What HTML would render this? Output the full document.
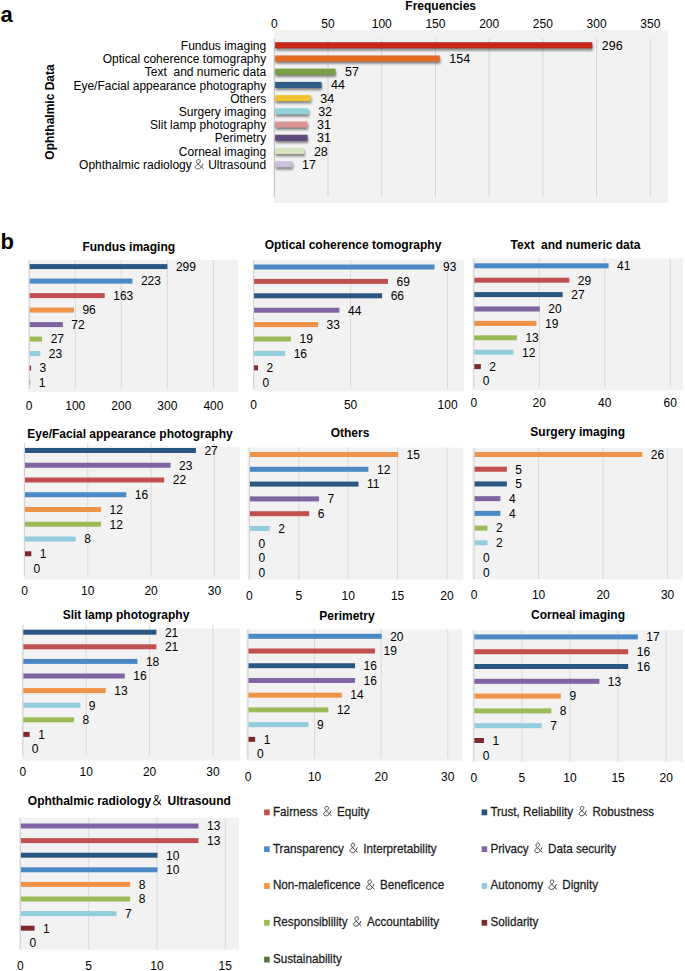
<!DOCTYPE html>
<html><head><meta charset="utf-8"><style>html,body{margin:0;padding:0;background:#fff;width:685px;height:971px;overflow:hidden}text{font-family:'Liberation Sans', sans-serif}</style></head>
<body><svg width="685" height="971" viewBox="0 0 685 971" style="display:block;font-family:'Liberation Sans', sans-serif">
<defs><filter id="sh" x="-5%" y="-50%" width="110%" height="200%"><feGaussianBlur stdDeviation="0.8"/></filter></defs>
<rect width="685" height="971" fill="#fff"/>
<rect x="274.00" y="30.00" width="394.00" height="173.00" fill="#f2f2f2" />
<line x1="328.01" y1="38.70" x2="328.01" y2="197.00" stroke="#d4d4d4" stroke-width="1"/>
<line x1="381.73" y1="38.70" x2="381.73" y2="197.00" stroke="#d4d4d4" stroke-width="1"/>
<line x1="435.45" y1="38.70" x2="435.45" y2="197.00" stroke="#d4d4d4" stroke-width="1"/>
<line x1="489.16" y1="38.70" x2="489.16" y2="197.00" stroke="#d4d4d4" stroke-width="1"/>
<line x1="542.88" y1="38.70" x2="542.88" y2="197.00" stroke="#d4d4d4" stroke-width="1"/>
<line x1="596.59" y1="38.70" x2="596.59" y2="197.00" stroke="#d4d4d4" stroke-width="1"/>
<line x1="650.31" y1="38.70" x2="650.31" y2="197.00" stroke="#d4d4d4" stroke-width="1"/>
<line x1="274.30" y1="38.70" x2="274.30" y2="197.00" stroke="#c8c8c8" stroke-width="1.2"/>
<text x="274.30" y="28.00" font-size="12" text-anchor="middle" font-weight="normal" fill="#000" >0</text>
<text x="328.01" y="28.00" font-size="12" text-anchor="middle" font-weight="normal" fill="#000" >50</text>
<text x="381.73" y="28.00" font-size="12" text-anchor="middle" font-weight="normal" fill="#000" >100</text>
<text x="435.45" y="28.00" font-size="12" text-anchor="middle" font-weight="normal" fill="#000" >150</text>
<text x="489.16" y="28.00" font-size="12" text-anchor="middle" font-weight="normal" fill="#000" >200</text>
<text x="542.88" y="28.00" font-size="12" text-anchor="middle" font-weight="normal" fill="#000" >250</text>
<text x="596.59" y="28.00" font-size="12" text-anchor="middle" font-weight="normal" fill="#000" >300</text>
<text x="650.31" y="28.00" font-size="12" text-anchor="middle" font-weight="normal" fill="#000" >350</text>
<text x="440.70" y="10.00" font-size="12" text-anchor="middle" font-weight="bold" fill="#000" >Frequencies</text>
<text x="0.50" y="22.20" font-size="22" text-anchor="start" font-weight="bold" fill="#000" >a</text>
<text transform="translate(53.6,112) rotate(-90)" font-size="12" font-weight="bold" text-anchor="middle">Ophthalmic Data</text>
<rect x="275.70" y="44.40" width="317.19" height="6.10" fill="rgba(40,40,40,0.55)" filter="url(#sh)"/>
<rect x="275.10" y="42.20" width="317.19" height="6.10" fill="#c8261a" />
<text x="266.20" y="49.85" font-size="12" text-anchor="end" font-weight="normal" fill="#000" >Fundus imaging</text>
<text x="601.79" y="49.75" font-size="12.5" text-anchor="start" font-weight="normal" fill="#000" >296</text>
<rect x="275.70" y="57.62" width="164.64" height="6.10" fill="rgba(40,40,40,0.55)" filter="url(#sh)"/>
<rect x="275.10" y="55.42" width="164.64" height="6.10" fill="#e46c22" />
<text x="266.20" y="63.07" font-size="12" text-anchor="end" font-weight="normal" fill="#000" >Optical coherence tomography</text>
<text x="449.24" y="62.97" font-size="12.5" text-anchor="start" font-weight="normal" fill="#000" >154</text>
<rect x="275.70" y="70.84" width="60.44" height="6.10" fill="rgba(40,40,40,0.55)" filter="url(#sh)"/>
<rect x="275.10" y="68.64" width="60.44" height="6.10" fill="#77a043" />
<text x="266.20" y="76.29" font-size="12" text-anchor="end" font-weight="normal" fill="#000" >Text&#160; and numeric data</text>
<text x="345.04" y="76.19" font-size="12.5" text-anchor="start" font-weight="normal" fill="#000" >57</text>
<rect x="275.70" y="84.06" width="46.47" height="6.10" fill="rgba(40,40,40,0.55)" filter="url(#sh)"/>
<rect x="275.10" y="81.86" width="46.47" height="6.10" fill="#2f5c88" />
<text x="266.20" y="89.51" font-size="12" text-anchor="end" font-weight="normal" fill="#000" >Eye/Facial appearance photography</text>
<text x="331.07" y="89.41" font-size="12.5" text-anchor="start" font-weight="normal" fill="#000" >44</text>
<rect x="275.70" y="97.28" width="35.73" height="6.10" fill="rgba(40,40,40,0.55)" filter="url(#sh)"/>
<rect x="275.10" y="95.08" width="35.73" height="6.10" fill="#f0c232" />
<text x="266.20" y="102.73" font-size="12" text-anchor="end" font-weight="normal" fill="#000" >Others</text>
<text x="320.33" y="102.63" font-size="12.5" text-anchor="start" font-weight="normal" fill="#000" >34</text>
<rect x="275.70" y="110.50" width="33.58" height="6.10" fill="rgba(40,40,40,0.55)" filter="url(#sh)"/>
<rect x="275.10" y="108.30" width="33.58" height="6.10" fill="#93d2dc" />
<text x="266.20" y="115.95" font-size="12" text-anchor="end" font-weight="normal" fill="#000" >Surgery imaging</text>
<text x="318.18" y="115.85" font-size="12.5" text-anchor="start" font-weight="normal" fill="#000" >32</text>
<rect x="275.70" y="123.72" width="32.50" height="6.10" fill="rgba(40,40,40,0.55)" filter="url(#sh)"/>
<rect x="275.10" y="121.52" width="32.50" height="6.10" fill="#d99594" />
<text x="266.20" y="129.17" font-size="12" text-anchor="end" font-weight="normal" fill="#000" >Slit lamp photography</text>
<text x="317.10" y="129.07" font-size="12.5" text-anchor="start" font-weight="normal" fill="#000" >31</text>
<rect x="275.70" y="136.94" width="32.50" height="6.10" fill="rgba(40,40,40,0.55)" filter="url(#sh)"/>
<rect x="275.10" y="134.74" width="32.50" height="6.10" fill="#604a7b" />
<text x="266.20" y="142.39" font-size="12" text-anchor="end" font-weight="normal" fill="#000" >Perimetry</text>
<text x="317.10" y="142.29" font-size="12.5" text-anchor="start" font-weight="normal" fill="#000" >31</text>
<rect x="275.70" y="150.16" width="29.28" height="6.10" fill="rgba(40,40,40,0.55)" filter="url(#sh)"/>
<rect x="275.10" y="147.96" width="29.28" height="6.10" fill="#d7e4bd" />
<text x="266.20" y="155.61" font-size="12" text-anchor="end" font-weight="normal" fill="#000" >Corneal imaging</text>
<text x="313.88" y="155.51" font-size="12.5" text-anchor="start" font-weight="normal" fill="#000" >28</text>
<rect x="275.70" y="163.38" width="17.46" height="6.10" fill="rgba(40,40,40,0.55)" filter="url(#sh)"/>
<rect x="275.10" y="161.18" width="17.46" height="6.10" fill="#ccc1da" />
<text x="191.80" y="168.83" font-size="12" text-anchor="end" font-weight="normal" fill="#000" >Ophthalmic radiology</text>
<path d="M 7.9 9.5 L 2.7 4.4 C 1.2 3.0 1.1 0.2 3.5 0.2 C 5.7 0.2 5.8 2.8 3.2 4.6 C 1.0 6.1 0.3 6.9 0.3 7.9 C 0.3 9.1 1.4 9.8 2.9 9.8 C 4.9 9.8 6.5 8.0 7.5 4.8" transform="translate(194.70,159.43) scale(1.1,0.97)" fill="none" stroke="#444" stroke-width="0.85" stroke-linecap="round" stroke-linejoin="round"/>
<text x="266.20" y="168.83" font-size="12" text-anchor="end" font-weight="normal" fill="#000" >Ultrasound</text>
<text x="302.06" y="168.73" font-size="12.5" text-anchor="start" font-weight="normal" fill="#000" >17</text>
<text x="0.50" y="249.00" font-size="22" text-anchor="start" font-weight="bold" fill="#000" >b</text>
<rect x="28.20" y="260.00" width="209.80" height="132.20" fill="#f2f2f2" />
<line x1="75.25" y1="260.00" x2="75.25" y2="389.30" stroke="#d9d9d9" stroke-width="1"/>
<line x1="121.30" y1="260.00" x2="121.30" y2="389.30" stroke="#d9d9d9" stroke-width="1"/>
<line x1="167.35" y1="260.00" x2="167.35" y2="389.30" stroke="#d9d9d9" stroke-width="1"/>
<line x1="213.40" y1="260.00" x2="213.40" y2="389.30" stroke="#d9d9d9" stroke-width="1"/>
<line x1="29.20" y1="260.00" x2="29.20" y2="389.30" stroke="#d2d2d2" stroke-width="1.1"/>
<text x="29.20" y="409.50" font-size="12" text-anchor="middle" font-weight="normal" fill="#000" >0</text>
<text x="75.25" y="409.50" font-size="12" text-anchor="middle" font-weight="normal" fill="#000" >100</text>
<text x="121.30" y="409.50" font-size="12" text-anchor="middle" font-weight="normal" fill="#000" >200</text>
<text x="167.35" y="409.50" font-size="12" text-anchor="middle" font-weight="normal" fill="#000" >300</text>
<text x="213.40" y="409.50" font-size="12" text-anchor="middle" font-weight="normal" fill="#000" >400</text>
<text x="128.75" y="251.00" font-size="12" text-anchor="middle" font-weight="bold" fill="#000" >Fundus imaging</text>
<rect x="29.70" y="264.10" width="137.69" height="5.00" fill="#2a5782" />
<text x="175.89" y="270.90" font-size="12" text-anchor="start" font-weight="normal" fill="#000" >299</text>
<rect x="29.70" y="278.60" width="102.69" height="5.00" fill="#4a88c6" />
<text x="140.89" y="285.40" font-size="12" text-anchor="start" font-weight="normal" fill="#000" >223</text>
<rect x="29.70" y="293.10" width="75.06" height="5.00" fill="#c0504d" />
<text x="113.26" y="299.90" font-size="12" text-anchor="start" font-weight="normal" fill="#000" >163</text>
<rect x="29.70" y="307.60" width="44.21" height="5.00" fill="#ef9349" />
<text x="82.41" y="314.40" font-size="12" text-anchor="start" font-weight="normal" fill="#000" >96</text>
<rect x="29.70" y="322.10" width="33.16" height="5.00" fill="#8064a2" />
<text x="71.36" y="328.90" font-size="12" text-anchor="start" font-weight="normal" fill="#000" >72</text>
<rect x="29.70" y="336.60" width="12.43" height="5.00" fill="#9bbb59" />
<text x="50.63" y="343.40" font-size="12" text-anchor="start" font-weight="normal" fill="#000" >27</text>
<rect x="29.70" y="351.10" width="10.59" height="5.00" fill="#93cddd" />
<text x="48.79" y="357.90" font-size="12" text-anchor="start" font-weight="normal" fill="#000" >23</text>
<rect x="29.70" y="365.60" width="1.38" height="5.00" fill="#7f2a2a" />
<text x="39.58" y="372.40" font-size="12" text-anchor="start" font-weight="normal" fill="#000" >3</text>
<rect x="29.70" y="380.10" width="0.46" height="5.00" fill="#6a6a6a" />
<text x="38.66" y="386.90" font-size="12" text-anchor="start" font-weight="normal" fill="#000" >1</text>
<rect x="252.80" y="260.00" width="211.20" height="131.30" fill="#f2f2f2" />
<line x1="350.60" y1="260.00" x2="350.60" y2="388.40" stroke="#d9d9d9" stroke-width="1"/>
<line x1="447.60" y1="260.00" x2="447.60" y2="388.40" stroke="#d9d9d9" stroke-width="1"/>
<line x1="253.60" y1="260.00" x2="253.60" y2="388.40" stroke="#d2d2d2" stroke-width="1.1"/>
<text x="253.60" y="408.50" font-size="12" text-anchor="middle" font-weight="normal" fill="#000" >0</text>
<text x="350.60" y="408.50" font-size="12" text-anchor="middle" font-weight="normal" fill="#000" >50</text>
<text x="447.60" y="408.50" font-size="12" text-anchor="middle" font-weight="normal" fill="#000" >100</text>
<text x="353.00" y="249.00" font-size="12" text-anchor="middle" font-weight="bold" fill="#000" >Optical coherence tomography</text>
<rect x="254.10" y="264.50" width="180.42" height="5.00" fill="#4a88c6" />
<text x="443.02" y="271.30" font-size="12" text-anchor="start" font-weight="normal" fill="#000" >93</text>
<rect x="254.10" y="278.90" width="133.86" height="5.00" fill="#c0504d" />
<text x="396.46" y="285.70" font-size="12" text-anchor="start" font-weight="normal" fill="#000" >69</text>
<rect x="254.10" y="293.30" width="128.04" height="5.00" fill="#2a5782" />
<text x="390.64" y="300.10" font-size="12" text-anchor="start" font-weight="normal" fill="#000" >66</text>
<rect x="254.10" y="307.70" width="85.36" height="5.00" fill="#8064a2" />
<text x="347.96" y="314.50" font-size="12" text-anchor="start" font-weight="normal" fill="#000" >44</text>
<rect x="254.10" y="322.10" width="64.02" height="5.00" fill="#ef9349" />
<text x="326.62" y="328.90" font-size="12" text-anchor="start" font-weight="normal" fill="#000" >33</text>
<rect x="254.10" y="336.50" width="36.86" height="5.00" fill="#9bbb59" />
<text x="299.46" y="343.30" font-size="12" text-anchor="start" font-weight="normal" fill="#000" >19</text>
<rect x="254.10" y="350.90" width="31.04" height="5.00" fill="#93cddd" />
<text x="293.64" y="357.70" font-size="12" text-anchor="start" font-weight="normal" fill="#000" >16</text>
<rect x="254.10" y="365.30" width="3.88" height="5.00" fill="#7f2a2a" />
<text x="266.48" y="372.10" font-size="12" text-anchor="start" font-weight="normal" fill="#000" >2</text>
<text x="262.60" y="386.50" font-size="12" text-anchor="start" font-weight="normal" fill="#000" >0</text>
<rect x="472.50" y="258.50" width="210.50" height="131.90" fill="#f2f2f2" />
<line x1="539.30" y1="258.50" x2="539.30" y2="387.80" stroke="#d9d9d9" stroke-width="1"/>
<line x1="604.80" y1="258.50" x2="604.80" y2="387.80" stroke="#d9d9d9" stroke-width="1"/>
<line x1="670.30" y1="258.50" x2="670.30" y2="387.80" stroke="#d9d9d9" stroke-width="1"/>
<line x1="473.80" y1="258.50" x2="473.80" y2="387.80" stroke="#d2d2d2" stroke-width="1.1"/>
<text x="473.80" y="407.00" font-size="12" text-anchor="middle" font-weight="normal" fill="#000" >0</text>
<text x="539.30" y="407.00" font-size="12" text-anchor="middle" font-weight="normal" fill="#000" >20</text>
<text x="604.80" y="407.00" font-size="12" text-anchor="middle" font-weight="normal" fill="#000" >40</text>
<text x="670.30" y="407.00" font-size="12" text-anchor="middle" font-weight="normal" fill="#000" >60</text>
<text x="575.50" y="249.00" font-size="12" text-anchor="middle" font-weight="bold" fill="#000" >Text&#160; and numeric data</text>
<rect x="474.30" y="263.30" width="134.28" height="5.00" fill="#4a88c6" />
<text x="617.08" y="270.10" font-size="12" text-anchor="start" font-weight="normal" fill="#000" >41</text>
<rect x="474.30" y="277.70" width="94.97" height="5.00" fill="#c0504d" />
<text x="577.77" y="284.50" font-size="12" text-anchor="start" font-weight="normal" fill="#000" >29</text>
<rect x="474.30" y="292.10" width="88.42" height="5.00" fill="#2a5782" />
<text x="571.23" y="298.90" font-size="12" text-anchor="start" font-weight="normal" fill="#000" >27</text>
<rect x="474.30" y="306.50" width="65.50" height="5.00" fill="#8064a2" />
<text x="548.30" y="313.30" font-size="12" text-anchor="start" font-weight="normal" fill="#000" >20</text>
<rect x="474.30" y="320.90" width="62.23" height="5.00" fill="#ef9349" />
<text x="545.02" y="327.70" font-size="12" text-anchor="start" font-weight="normal" fill="#000" >19</text>
<rect x="474.30" y="335.30" width="42.57" height="5.00" fill="#9bbb59" />
<text x="525.38" y="342.10" font-size="12" text-anchor="start" font-weight="normal" fill="#000" >13</text>
<rect x="474.30" y="349.70" width="39.30" height="5.00" fill="#93cddd" />
<text x="522.10" y="356.50" font-size="12" text-anchor="start" font-weight="normal" fill="#000" >12</text>
<rect x="474.30" y="364.10" width="6.55" height="5.00" fill="#7f2a2a" />
<text x="489.35" y="370.90" font-size="12" text-anchor="start" font-weight="normal" fill="#000" >2</text>
<text x="482.80" y="385.30" font-size="12" text-anchor="start" font-weight="normal" fill="#000" >0</text>
<rect x="23.50" y="446.50" width="216.50" height="132.90" fill="#f2f2f2" />
<line x1="87.80" y1="443.20" x2="87.80" y2="575.80" stroke="#d9d9d9" stroke-width="1"/>
<line x1="151.10" y1="443.20" x2="151.10" y2="575.80" stroke="#d9d9d9" stroke-width="1"/>
<line x1="214.40" y1="443.20" x2="214.40" y2="575.80" stroke="#d9d9d9" stroke-width="1"/>
<line x1="24.50" y1="443.20" x2="24.50" y2="575.80" stroke="#d2d2d2" stroke-width="1.1"/>
<text x="24.50" y="594.50" font-size="12" text-anchor="middle" font-weight="normal" fill="#000" >0</text>
<text x="87.80" y="594.50" font-size="12" text-anchor="middle" font-weight="normal" fill="#000" >10</text>
<text x="151.10" y="594.50" font-size="12" text-anchor="middle" font-weight="normal" fill="#000" >20</text>
<text x="214.40" y="594.50" font-size="12" text-anchor="middle" font-weight="normal" fill="#000" >30</text>
<text x="130.00" y="437.50" font-size="12" text-anchor="middle" font-weight="bold" fill="#000" >Eye/Facial appearance photography</text>
<rect x="25.00" y="448.00" width="170.91" height="5.00" fill="#2a5782" />
<text x="204.41" y="454.80" font-size="12" text-anchor="start" font-weight="normal" fill="#000" >27</text>
<rect x="25.00" y="462.75" width="145.59" height="5.00" fill="#8064a2" />
<text x="179.09" y="469.55" font-size="12" text-anchor="start" font-weight="normal" fill="#000" >23</text>
<rect x="25.00" y="477.50" width="139.26" height="5.00" fill="#c0504d" />
<text x="172.76" y="484.30" font-size="12" text-anchor="start" font-weight="normal" fill="#000" >22</text>
<rect x="25.00" y="492.25" width="101.28" height="5.00" fill="#4a88c6" />
<text x="134.78" y="499.05" font-size="12" text-anchor="start" font-weight="normal" fill="#000" >16</text>
<rect x="25.00" y="507.00" width="75.96" height="5.00" fill="#ef9349" />
<text x="109.46" y="513.80" font-size="12" text-anchor="start" font-weight="normal" fill="#000" >12</text>
<rect x="25.00" y="521.75" width="75.96" height="5.00" fill="#9bbb59" />
<text x="109.46" y="528.55" font-size="12" text-anchor="start" font-weight="normal" fill="#000" >12</text>
<rect x="25.00" y="536.50" width="50.64" height="5.00" fill="#93cddd" />
<text x="84.14" y="543.30" font-size="12" text-anchor="start" font-weight="normal" fill="#000" >8</text>
<rect x="25.00" y="551.25" width="6.33" height="5.00" fill="#7f2a2a" />
<text x="39.83" y="558.05" font-size="12" text-anchor="start" font-weight="normal" fill="#000" >1</text>
<text x="33.50" y="572.80" font-size="12" text-anchor="start" font-weight="normal" fill="#000" >0</text>
<rect x="247.40" y="447.60" width="215.90" height="131.90" fill="#f2f2f2" />
<line x1="298.80" y1="447.60" x2="298.80" y2="579.50" stroke="#d9d9d9" stroke-width="1"/>
<line x1="348.20" y1="447.60" x2="348.20" y2="579.50" stroke="#d9d9d9" stroke-width="1"/>
<line x1="397.60" y1="447.60" x2="397.60" y2="579.50" stroke="#d9d9d9" stroke-width="1"/>
<line x1="447.00" y1="447.60" x2="447.00" y2="579.50" stroke="#d9d9d9" stroke-width="1"/>
<line x1="249.40" y1="447.60" x2="249.40" y2="579.50" stroke="#d2d2d2" stroke-width="1.1"/>
<text x="249.40" y="599.50" font-size="12" text-anchor="middle" font-weight="normal" fill="#000" >0</text>
<text x="298.80" y="599.50" font-size="12" text-anchor="middle" font-weight="normal" fill="#000" >5</text>
<text x="348.20" y="599.50" font-size="12" text-anchor="middle" font-weight="normal" fill="#000" >10</text>
<text x="397.60" y="599.50" font-size="12" text-anchor="middle" font-weight="normal" fill="#000" >15</text>
<text x="447.00" y="599.50" font-size="12" text-anchor="middle" font-weight="normal" fill="#000" >20</text>
<text x="350.00" y="437.00" font-size="12" text-anchor="middle" font-weight="bold" fill="#000" >Others</text>
<rect x="249.90" y="452.00" width="148.20" height="5.00" fill="#ef9349" />
<text x="406.60" y="458.80" font-size="12" text-anchor="start" font-weight="normal" fill="#000" >15</text>
<rect x="249.90" y="466.80" width="118.56" height="5.00" fill="#4a88c6" />
<text x="376.96" y="473.60" font-size="12" text-anchor="start" font-weight="normal" fill="#000" >12</text>
<rect x="249.90" y="481.60" width="108.68" height="5.00" fill="#2a5782" />
<text x="367.08" y="488.40" font-size="12" text-anchor="start" font-weight="normal" fill="#000" >11</text>
<rect x="249.90" y="496.40" width="69.16" height="5.00" fill="#8064a2" />
<text x="327.56" y="503.20" font-size="12" text-anchor="start" font-weight="normal" fill="#000" >7</text>
<rect x="249.90" y="511.20" width="59.28" height="5.00" fill="#c0504d" />
<text x="317.68" y="518.00" font-size="12" text-anchor="start" font-weight="normal" fill="#000" >6</text>
<rect x="249.90" y="526.00" width="19.76" height="5.00" fill="#93cddd" />
<text x="278.16" y="532.80" font-size="12" text-anchor="start" font-weight="normal" fill="#000" >2</text>
<text x="258.40" y="547.60" font-size="12" text-anchor="start" font-weight="normal" fill="#000" >0</text>
<text x="258.40" y="562.40" font-size="12" text-anchor="start" font-weight="normal" fill="#000" >0</text>
<text x="258.40" y="577.20" font-size="12" text-anchor="start" font-weight="normal" fill="#000" >0</text>
<rect x="471.80" y="447.90" width="211.20" height="131.40" fill="#f2f2f2" />
<line x1="538.60" y1="447.90" x2="538.60" y2="579.30" stroke="#d9d9d9" stroke-width="1"/>
<line x1="603.10" y1="447.90" x2="603.10" y2="579.30" stroke="#d9d9d9" stroke-width="1"/>
<line x1="667.60" y1="447.90" x2="667.60" y2="579.30" stroke="#d9d9d9" stroke-width="1"/>
<line x1="474.10" y1="447.90" x2="474.10" y2="579.30" stroke="#d2d2d2" stroke-width="1.1"/>
<text x="474.10" y="598.50" font-size="12" text-anchor="middle" font-weight="normal" fill="#000" >0</text>
<text x="538.60" y="598.50" font-size="12" text-anchor="middle" font-weight="normal" fill="#000" >10</text>
<text x="603.10" y="598.50" font-size="12" text-anchor="middle" font-weight="normal" fill="#000" >20</text>
<text x="667.60" y="598.50" font-size="12" text-anchor="middle" font-weight="normal" fill="#000" >30</text>
<text x="577.70" y="436.00" font-size="12" text-anchor="middle" font-weight="bold" fill="#000" >Surgery imaging</text>
<rect x="474.60" y="452.00" width="167.70" height="5.00" fill="#ef9349" />
<text x="650.80" y="458.80" font-size="12" text-anchor="start" font-weight="normal" fill="#000" >26</text>
<rect x="474.60" y="466.72" width="32.25" height="5.00" fill="#c0504d" />
<text x="515.35" y="473.52" font-size="12" text-anchor="start" font-weight="normal" fill="#000" >5</text>
<rect x="474.60" y="481.44" width="32.25" height="5.00" fill="#2a5782" />
<text x="515.35" y="488.24" font-size="12" text-anchor="start" font-weight="normal" fill="#000" >5</text>
<rect x="474.60" y="496.16" width="25.80" height="5.00" fill="#8064a2" />
<text x="508.90" y="502.96" font-size="12" text-anchor="start" font-weight="normal" fill="#000" >4</text>
<rect x="474.60" y="510.88" width="25.80" height="5.00" fill="#4a88c6" />
<text x="508.90" y="517.68" font-size="12" text-anchor="start" font-weight="normal" fill="#000" >4</text>
<rect x="474.60" y="525.60" width="12.90" height="5.00" fill="#9bbb59" />
<text x="496.00" y="532.40" font-size="12" text-anchor="start" font-weight="normal" fill="#000" >2</text>
<rect x="474.60" y="540.32" width="12.90" height="5.00" fill="#93cddd" />
<text x="496.00" y="547.12" font-size="12" text-anchor="start" font-weight="normal" fill="#000" >2</text>
<text x="483.10" y="561.84" font-size="12" text-anchor="start" font-weight="normal" fill="#000" >0</text>
<text x="483.10" y="576.56" font-size="12" text-anchor="start" font-weight="normal" fill="#000" >0</text>
<rect x="21.70" y="628.70" width="218.30" height="132.00" fill="#f2f2f2" />
<line x1="86.20" y1="624.70" x2="86.20" y2="755.70" stroke="#d9d9d9" stroke-width="1"/>
<line x1="149.60" y1="624.70" x2="149.60" y2="755.70" stroke="#d9d9d9" stroke-width="1"/>
<line x1="213.00" y1="624.70" x2="213.00" y2="755.70" stroke="#d9d9d9" stroke-width="1"/>
<line x1="22.80" y1="624.70" x2="22.80" y2="755.70" stroke="#d2d2d2" stroke-width="1.1"/>
<text x="22.80" y="775.50" font-size="12" text-anchor="middle" font-weight="normal" fill="#000" >0</text>
<text x="86.20" y="775.50" font-size="12" text-anchor="middle" font-weight="normal" fill="#000" >10</text>
<text x="149.60" y="775.50" font-size="12" text-anchor="middle" font-weight="normal" fill="#000" >20</text>
<text x="213.00" y="775.50" font-size="12" text-anchor="middle" font-weight="normal" fill="#000" >30</text>
<text x="126.00" y="619.00" font-size="12" text-anchor="middle" font-weight="bold" fill="#000" >Slit lamp photography</text>
<rect x="23.30" y="629.70" width="133.14" height="5.00" fill="#2a5782" />
<text x="164.94" y="636.50" font-size="12" text-anchor="start" font-weight="normal" fill="#000" >21</text>
<rect x="23.30" y="644.30" width="133.14" height="5.00" fill="#c0504d" />
<text x="164.94" y="651.10" font-size="12" text-anchor="start" font-weight="normal" fill="#000" >21</text>
<rect x="23.30" y="658.90" width="114.12" height="5.00" fill="#4a88c6" />
<text x="145.92" y="665.70" font-size="12" text-anchor="start" font-weight="normal" fill="#000" >18</text>
<rect x="23.30" y="673.50" width="101.44" height="5.00" fill="#8064a2" />
<text x="133.24" y="680.30" font-size="12" text-anchor="start" font-weight="normal" fill="#000" >16</text>
<rect x="23.30" y="688.10" width="82.42" height="5.00" fill="#ef9349" />
<text x="114.22" y="694.90" font-size="12" text-anchor="start" font-weight="normal" fill="#000" >13</text>
<rect x="23.30" y="702.70" width="57.06" height="5.00" fill="#93cddd" />
<text x="88.86" y="709.50" font-size="12" text-anchor="start" font-weight="normal" fill="#000" >9</text>
<rect x="23.30" y="717.30" width="50.72" height="5.00" fill="#9bbb59" />
<text x="82.52" y="724.10" font-size="12" text-anchor="start" font-weight="normal" fill="#000" >8</text>
<rect x="23.30" y="731.90" width="6.34" height="5.00" fill="#7f2a2a" />
<text x="38.14" y="738.70" font-size="12" text-anchor="start" font-weight="normal" fill="#000" >1</text>
<text x="31.80" y="753.30" font-size="12" text-anchor="start" font-weight="normal" fill="#000" >0</text>
<rect x="246.00" y="629.50" width="216.30" height="131.30" fill="#f2f2f2" />
<line x1="314.60" y1="629.50" x2="314.60" y2="758.50" stroke="#d9d9d9" stroke-width="1"/>
<line x1="381.20" y1="629.50" x2="381.20" y2="758.50" stroke="#d9d9d9" stroke-width="1"/>
<line x1="447.80" y1="629.50" x2="447.80" y2="758.50" stroke="#d9d9d9" stroke-width="1"/>
<line x1="248.00" y1="629.50" x2="248.00" y2="758.50" stroke="#d2d2d2" stroke-width="1.1"/>
<text x="248.00" y="780.50" font-size="12" text-anchor="middle" font-weight="normal" fill="#000" >0</text>
<text x="314.60" y="780.50" font-size="12" text-anchor="middle" font-weight="normal" fill="#000" >10</text>
<text x="381.20" y="780.50" font-size="12" text-anchor="middle" font-weight="normal" fill="#000" >20</text>
<text x="447.80" y="780.50" font-size="12" text-anchor="middle" font-weight="normal" fill="#000" >30</text>
<text x="347.00" y="619.50" font-size="12" text-anchor="middle" font-weight="bold" fill="#000" >Perimetry</text>
<rect x="248.50" y="633.80" width="133.20" height="5.00" fill="#4a88c6" />
<text x="390.20" y="640.60" font-size="12" text-anchor="start" font-weight="normal" fill="#000" >20</text>
<rect x="248.50" y="648.52" width="126.54" height="5.00" fill="#c0504d" />
<text x="383.54" y="655.32" font-size="12" text-anchor="start" font-weight="normal" fill="#000" >19</text>
<rect x="248.50" y="663.24" width="106.56" height="5.00" fill="#2a5782" />
<text x="363.56" y="670.04" font-size="12" text-anchor="start" font-weight="normal" fill="#000" >16</text>
<rect x="248.50" y="677.96" width="106.56" height="5.00" fill="#8064a2" />
<text x="363.56" y="684.76" font-size="12" text-anchor="start" font-weight="normal" fill="#000" >16</text>
<rect x="248.50" y="692.68" width="93.24" height="5.00" fill="#ef9349" />
<text x="350.24" y="699.48" font-size="12" text-anchor="start" font-weight="normal" fill="#000" >14</text>
<rect x="248.50" y="707.40" width="79.92" height="5.00" fill="#9bbb59" />
<text x="336.92" y="714.20" font-size="12" text-anchor="start" font-weight="normal" fill="#000" >12</text>
<rect x="248.50" y="722.12" width="59.94" height="5.00" fill="#93cddd" />
<text x="316.94" y="728.92" font-size="12" text-anchor="start" font-weight="normal" fill="#000" >9</text>
<rect x="248.50" y="736.84" width="6.66" height="5.00" fill="#7f2a2a" />
<text x="263.66" y="743.64" font-size="12" text-anchor="start" font-weight="normal" fill="#000" >1</text>
<text x="257.00" y="758.36" font-size="12" text-anchor="start" font-weight="normal" fill="#000" >0</text>
<rect x="472.50" y="630.20" width="210.50" height="131.30" fill="#f2f2f2" />
<line x1="521.90" y1="630.20" x2="521.90" y2="761.50" stroke="#d9d9d9" stroke-width="1"/>
<line x1="570.00" y1="630.20" x2="570.00" y2="761.50" stroke="#d9d9d9" stroke-width="1"/>
<line x1="618.10" y1="630.20" x2="618.10" y2="761.50" stroke="#d9d9d9" stroke-width="1"/>
<line x1="666.20" y1="630.20" x2="666.20" y2="761.50" stroke="#d9d9d9" stroke-width="1"/>
<line x1="473.80" y1="630.20" x2="473.80" y2="761.50" stroke="#d2d2d2" stroke-width="1.1"/>
<text x="473.80" y="781.50" font-size="12" text-anchor="middle" font-weight="normal" fill="#000" >0</text>
<text x="521.90" y="781.50" font-size="12" text-anchor="middle" font-weight="normal" fill="#000" >5</text>
<text x="570.00" y="781.50" font-size="12" text-anchor="middle" font-weight="normal" fill="#000" >10</text>
<text x="618.10" y="781.50" font-size="12" text-anchor="middle" font-weight="normal" fill="#000" >15</text>
<text x="666.20" y="781.50" font-size="12" text-anchor="middle" font-weight="normal" fill="#000" >20</text>
<text x="578.00" y="619.00" font-size="12" text-anchor="middle" font-weight="bold" fill="#000" >Corneal imaging</text>
<rect x="474.30" y="634.40" width="163.54" height="5.00" fill="#4a88c6" />
<text x="646.34" y="641.20" font-size="12" text-anchor="start" font-weight="normal" fill="#000" >17</text>
<rect x="474.30" y="649.20" width="153.92" height="5.00" fill="#c0504d" />
<text x="636.72" y="656.00" font-size="12" text-anchor="start" font-weight="normal" fill="#000" >16</text>
<rect x="474.30" y="664.00" width="153.92" height="5.00" fill="#2a5782" />
<text x="636.72" y="670.80" font-size="12" text-anchor="start" font-weight="normal" fill="#000" >16</text>
<rect x="474.30" y="678.80" width="125.06" height="5.00" fill="#8064a2" />
<text x="607.86" y="685.60" font-size="12" text-anchor="start" font-weight="normal" fill="#000" >13</text>
<rect x="474.30" y="693.60" width="86.58" height="5.00" fill="#ef9349" />
<text x="569.38" y="700.40" font-size="12" text-anchor="start" font-weight="normal" fill="#000" >9</text>
<rect x="474.30" y="708.40" width="76.96" height="5.00" fill="#9bbb59" />
<text x="559.76" y="715.20" font-size="12" text-anchor="start" font-weight="normal" fill="#000" >8</text>
<rect x="474.30" y="723.20" width="67.34" height="5.00" fill="#93cddd" />
<text x="550.14" y="730.00" font-size="12" text-anchor="start" font-weight="normal" fill="#000" >7</text>
<rect x="474.30" y="738.00" width="9.62" height="5.00" fill="#7f2a2a" />
<text x="492.42" y="744.80" font-size="12" text-anchor="start" font-weight="normal" fill="#000" >1</text>
<text x="482.80" y="759.60" font-size="12" text-anchor="start" font-weight="normal" fill="#000" >0</text>
<rect x="19.00" y="817.80" width="220.00" height="131.90" fill="#f2f2f2" />
<line x1="88.70" y1="817.80" x2="88.70" y2="949.70" stroke="#d9d9d9" stroke-width="1"/>
<line x1="157.00" y1="817.80" x2="157.00" y2="949.70" stroke="#d9d9d9" stroke-width="1"/>
<line x1="225.30" y1="817.80" x2="225.30" y2="949.70" stroke="#d9d9d9" stroke-width="1"/>
<line x1="20.40" y1="817.80" x2="20.40" y2="949.70" stroke="#d2d2d2" stroke-width="1.1"/>
<text x="20.40" y="969.50" font-size="12" text-anchor="middle" font-weight="normal" fill="#000" >0</text>
<text x="88.70" y="969.50" font-size="12" text-anchor="middle" font-weight="normal" fill="#000" >5</text>
<text x="157.00" y="969.50" font-size="12" text-anchor="middle" font-weight="normal" fill="#000" >10</text>
<text x="225.30" y="969.50" font-size="12" text-anchor="middle" font-weight="normal" fill="#000" >15</text>
<text x="129.00" y="804.50" font-size="12" text-anchor="middle" font-weight="bold" fill="#000" ></text>
<rect x="20.90" y="823.50" width="177.58" height="5.00" fill="#8064a2" />
<text x="206.98" y="830.30" font-size="12" text-anchor="start" font-weight="normal" fill="#000" >13</text>
<rect x="20.90" y="838.10" width="177.58" height="5.00" fill="#c0504d" />
<text x="206.98" y="844.90" font-size="12" text-anchor="start" font-weight="normal" fill="#000" >13</text>
<rect x="20.90" y="852.70" width="136.60" height="5.00" fill="#2a5782" />
<text x="166.00" y="859.50" font-size="12" text-anchor="start" font-weight="normal" fill="#000" >10</text>
<rect x="20.90" y="867.30" width="136.60" height="5.00" fill="#4a88c6" />
<text x="166.00" y="874.10" font-size="12" text-anchor="start" font-weight="normal" fill="#000" >10</text>
<rect x="20.90" y="881.90" width="109.28" height="5.00" fill="#ef9349" />
<text x="138.68" y="888.70" font-size="12" text-anchor="start" font-weight="normal" fill="#000" >8</text>
<rect x="20.90" y="896.50" width="109.28" height="5.00" fill="#9bbb59" />
<text x="138.68" y="903.30" font-size="12" text-anchor="start" font-weight="normal" fill="#000" >8</text>
<rect x="20.90" y="911.10" width="95.62" height="5.00" fill="#93cddd" />
<text x="125.02" y="917.90" font-size="12" text-anchor="start" font-weight="normal" fill="#000" >7</text>
<rect x="20.90" y="925.70" width="13.66" height="5.00" fill="#7f2a2a" />
<text x="43.06" y="932.50" font-size="12" text-anchor="start" font-weight="normal" fill="#000" >1</text>
<text x="29.40" y="947.10" font-size="12" text-anchor="start" font-weight="normal" fill="#000" >0</text>
<text x="151.20" y="804.50" font-size="12" text-anchor="end" font-weight="bold" fill="#000" >Ophthalmic radiology</text>
<path d="M 7.9 9.5 L 2.7 4.4 C 1.2 3.0 1.1 0.2 3.5 0.2 C 5.7 0.2 5.8 2.8 3.2 4.6 C 1.0 6.1 0.3 6.9 0.3 7.9 C 0.3 9.1 1.4 9.8 2.9 9.8 C 4.9 9.8 6.5 8.0 7.5 4.8" transform="translate(153.30,795.20) scale(0.95,0.99)" fill="none" stroke="#1a1a1a" stroke-width="1.05" stroke-linecap="round" stroke-linejoin="round"/>
<text x="167.50" y="804.50" font-size="12" text-anchor="start" font-weight="bold" fill="#000" >Ultrasound</text>
<rect x="264.10" y="809.50" width="5.60" height="5.80" fill="#c0504d" />
<text transform="translate(272.90,815.80) scale(1,1.14)" font-size="11.7" fill="#1a1a1a" stroke="#1a1a1a" stroke-width="0.22">Fairness</text>
<path d="M 7.9 9.5 L 2.7 4.4 C 1.2 3.0 1.1 0.2 3.5 0.2 C 5.7 0.2 5.8 2.8 3.2 4.6 C 1.0 6.1 0.3 6.9 0.3 7.9 C 0.3 9.1 1.4 9.8 2.9 9.8 C 4.9 9.8 6.5 8.0 7.5 4.8" transform="translate(323.36,806.20) scale(1.0,0.98)" fill="none" stroke="#3c3c3c" stroke-width="0.95" stroke-linecap="round" stroke-linejoin="round"/>
<text transform="translate(336.96,815.80) scale(1,1.14)" font-size="11.7" fill="#1a1a1a" stroke="#1a1a1a" stroke-width="0.22">Equity</text>
<rect x="481.60" y="809.50" width="5.60" height="5.80" fill="#2a5782" />
<text transform="translate(490.40,815.80) scale(1,1.14)" font-size="11.7" fill="#1a1a1a" stroke="#1a1a1a" stroke-width="0.22">Trust, Reliability</text>
<path d="M 7.9 9.5 L 2.7 4.4 C 1.2 3.0 1.1 0.2 3.5 0.2 C 5.7 0.2 5.8 2.8 3.2 4.6 C 1.0 6.1 0.3 6.9 0.3 7.9 C 0.3 9.1 1.4 9.8 2.9 9.8 C 4.9 9.8 6.5 8.0 7.5 4.8" transform="translate(578.79,806.20) scale(1.0,0.98)" fill="none" stroke="#3c3c3c" stroke-width="0.95" stroke-linecap="round" stroke-linejoin="round"/>
<text transform="translate(592.39,815.80) scale(1,1.14)" font-size="11.7" fill="#1a1a1a" stroke="#1a1a1a" stroke-width="0.22">Robustness</text>
<rect x="264.10" y="846.30" width="5.60" height="5.80" fill="#4a88c6" />
<text transform="translate(272.90,852.60) scale(1,1.14)" font-size="11.7" fill="#1a1a1a" stroke="#1a1a1a" stroke-width="0.22">Transparency</text>
<path d="M 7.9 9.5 L 2.7 4.4 C 1.2 3.0 1.1 0.2 3.5 0.2 C 5.7 0.2 5.8 2.8 3.2 4.6 C 1.0 6.1 0.3 6.9 0.3 7.9 C 0.3 9.1 1.4 9.8 2.9 9.8 C 4.9 9.8 6.5 8.0 7.5 4.8" transform="translate(349.60,843.00) scale(1.0,0.98)" fill="none" stroke="#3c3c3c" stroke-width="0.95" stroke-linecap="round" stroke-linejoin="round"/>
<text transform="translate(363.20,852.60) scale(1,1.14)" font-size="11.7" fill="#1a1a1a" stroke="#1a1a1a" stroke-width="0.22">Interpretability</text>
<rect x="481.60" y="846.30" width="5.60" height="5.80" fill="#8064a2" />
<text transform="translate(490.40,852.60) scale(1,1.14)" font-size="11.7" fill="#1a1a1a" stroke="#1a1a1a" stroke-width="0.22">Privacy</text>
<path d="M 7.9 9.5 L 2.7 4.4 C 1.2 3.0 1.1 0.2 3.5 0.2 C 5.7 0.2 5.8 2.8 3.2 4.6 C 1.0 6.1 0.3 6.9 0.3 7.9 C 0.3 9.1 1.4 9.8 2.9 9.8 C 4.9 9.8 6.5 8.0 7.5 4.8" transform="translate(534.36,843.00) scale(1.0,0.98)" fill="none" stroke="#3c3c3c" stroke-width="0.95" stroke-linecap="round" stroke-linejoin="round"/>
<text transform="translate(547.96,852.60) scale(1,1.14)" font-size="11.7" fill="#1a1a1a" stroke="#1a1a1a" stroke-width="0.22">Data security</text>
<rect x="264.10" y="883.10" width="5.60" height="5.80" fill="#ef9349" />
<text transform="translate(272.90,889.40) scale(1,1.14)" font-size="11.7" fill="#1a1a1a" stroke="#1a1a1a" stroke-width="0.22">Non-maleficence</text>
<path d="M 7.9 9.5 L 2.7 4.4 C 1.2 3.0 1.1 0.2 3.5 0.2 C 5.7 0.2 5.8 2.8 3.2 4.6 C 1.0 6.1 0.3 6.9 0.3 7.9 C 0.3 9.1 1.4 9.8 2.9 9.8 C 4.9 9.8 6.5 8.0 7.5 4.8" transform="translate(366.29,879.80) scale(1.0,0.98)" fill="none" stroke="#3c3c3c" stroke-width="0.95" stroke-linecap="round" stroke-linejoin="round"/>
<text transform="translate(379.89,889.40) scale(1,1.14)" font-size="11.7" fill="#1a1a1a" stroke="#1a1a1a" stroke-width="0.22">Beneficence</text>
<rect x="481.60" y="883.10" width="5.60" height="5.80" fill="#93cddd" />
<text transform="translate(490.40,889.40) scale(1,1.14)" font-size="11.7" fill="#1a1a1a" stroke="#1a1a1a" stroke-width="0.22">Autonomy</text>
<path d="M 7.9 9.5 L 2.7 4.4 C 1.2 3.0 1.1 0.2 3.5 0.2 C 5.7 0.2 5.8 2.8 3.2 4.6 C 1.0 6.1 0.3 6.9 0.3 7.9 C 0.3 9.1 1.4 9.8 2.9 9.8 C 4.9 9.8 6.5 8.0 7.5 4.8" transform="translate(548.68,879.80) scale(1.0,0.98)" fill="none" stroke="#3c3c3c" stroke-width="0.95" stroke-linecap="round" stroke-linejoin="round"/>
<text transform="translate(562.28,889.40) scale(1,1.14)" font-size="11.7" fill="#1a1a1a" stroke="#1a1a1a" stroke-width="0.22">Dignity</text>
<rect x="264.10" y="919.90" width="5.60" height="5.80" fill="#9bbb59" />
<text transform="translate(272.90,926.20) scale(1,1.14)" font-size="11.7" fill="#1a1a1a" stroke="#1a1a1a" stroke-width="0.22">Responsiblility</text>
<path d="M 7.9 9.5 L 2.7 4.4 C 1.2 3.0 1.1 0.2 3.5 0.2 C 5.7 0.2 5.8 2.8 3.2 4.6 C 1.0 6.1 0.3 6.9 0.3 7.9 C 0.3 9.1 1.4 9.8 2.9 9.8 C 4.9 9.8 6.5 8.0 7.5 4.8" transform="translate(353.28,916.60) scale(1.0,0.98)" fill="none" stroke="#3c3c3c" stroke-width="0.95" stroke-linecap="round" stroke-linejoin="round"/>
<text transform="translate(366.88,926.20) scale(1,1.14)" font-size="11.7" fill="#1a1a1a" stroke="#1a1a1a" stroke-width="0.22">Accountability</text>
<rect x="481.60" y="919.90" width="5.60" height="5.80" fill="#7f2a2a" />
<text transform="translate(490.40,926.20) scale(1,1.14)" font-size="11.7" fill="#1a1a1a" stroke="#1a1a1a" stroke-width="0.22">Solidarity</text>
<rect x="264.10" y="956.70" width="5.60" height="5.80" fill="#57763a" />
<text transform="translate(272.90,963.00) scale(1,1.14)" font-size="11.7" fill="#1a1a1a" stroke="#1a1a1a" stroke-width="0.22">Sustainability</text>
</svg></body></html>
